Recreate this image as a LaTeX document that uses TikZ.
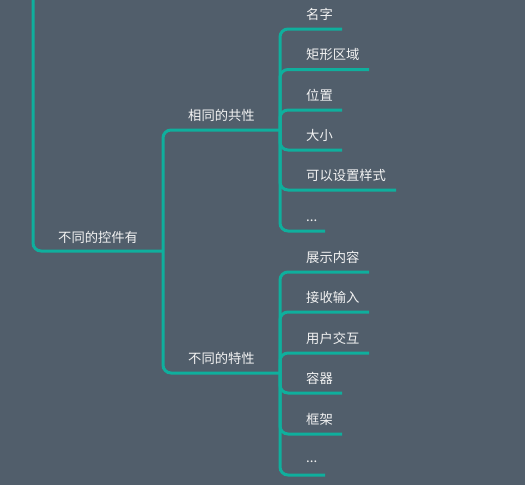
\documentclass[tikz,border=0pt]{standalone}
\usepackage{fontspec}
\newfontfamily\cjk{Noto Sans CJK SC}
\definecolor{bgc}{HTML}{515E6B}
\definecolor{tealc}{HTML}{0FAF9D}
\definecolor{txtc}{HTML}{F2F2F2}
\begin{document}
\begin{tikzpicture}[x=1pt,y=-1pt,
  branch/.style={draw=tealc, line width=3pt, rounded corners=8pt},
  lbl/.style={text=txtc, font=\cjk\fontsize{13.3}{14}\selectfont, anchor=west, inner sep=0pt}]
\fill[bgc] (0,0) rectangle (525,485);
\useasboundingbox (0,0) rectangle (525,485);
% junctions
\coordinate (top) at (33,-5);
\coordinate (root) at (163,251);
\coordinate (g1) at (280,130);
\coordinate (g2) at (280,373);
% group 1 ends
\coordinate (a1) at (342,29);
\coordinate (a2) at (369,69.5);
\coordinate (a3) at (342,110);
\coordinate (a4) at (342,150);
\coordinate (a5) at (396,190);
\coordinate (a6) at (325,231);
% group 2 ends
\coordinate (b1) at (369,272);
\coordinate (b2) at (369,312);
\coordinate (b3) at (369,353);
\coordinate (b4) at (342,393);
\coordinate (b5) at (342,434);
\coordinate (b6) at (325,475);
% connectors
\draw[branch] (top) |- (root);
\draw[branch] (root) |- (g1);
\draw[branch] (root) |- (g2);
\foreach \c in {a1,a2,a3,a4,a5,a6} \draw[branch] (g1) |- (\c);
\foreach \c in {b1,b2,b3,b4,b5,b6} \draw[branch] (g2) |- (\c);
% labels
\node[lbl] (troot) at (58,237) {不同的控件有};
\node[lbl] (tg1) at (188,115) {相同的共性};
\node[lbl] (tg2) at (188,358) {不同的特性};
\node[lbl] (ta1) at (306,14) {名字};
\node[lbl] (ta2) at (306,54.5) {矩形区域};
\node[lbl] (ta3) at (306,95) {位置};
\node[lbl] (ta4) at (306,135) {大小};
\node[lbl] (ta5) at (306,175) {可以设置样式};
\node[lbl] (ta6) at (306,221) {...};
\node[lbl] (tb1) at (306,257) {展示内容};
\node[lbl] (tb2) at (306,297) {接收输入};
\node[lbl] (tb3) at (306,338) {用户交互};
\node[lbl] (tb4) at (306,378) {容器};
\node[lbl] (tb5) at (306,419) {框架};
\node[lbl] (tb6) at (306,462) {...};
\end{tikzpicture}
\end{document}
